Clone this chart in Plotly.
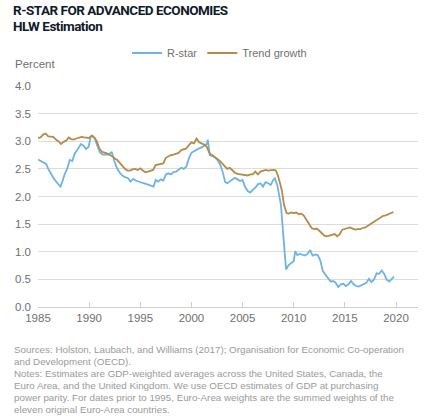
import plotly.graph_objects as go

# R-star (HLW estimation), GDP-weighted average, percent
rstar_years = [
    1985.0, 1985.25, 1985.5, 1985.8, 1986.0, 1986.25, 1986.6, 1986.9, 1987.2, 1987.4,
    1987.6, 1987.85, 1988.1, 1988.35, 1988.6, 1988.9, 1989.2, 1989.45, 1989.7, 1989.95,
    1990.15, 1990.3, 1990.55, 1990.8, 1991.05, 1991.3, 1991.55, 1991.8, 1992.05, 1992.2,
    1992.45, 1992.7, 1993.0, 1993.25, 1993.5, 1993.8, 1994.05, 1994.3, 1994.55, 1994.8,
    1995.05, 1995.3, 1995.55, 1995.8, 1996.05, 1996.3, 1996.5, 1996.75, 1997.0, 1997.25,
    1997.5, 1997.75, 1998.0, 1998.25, 1998.5, 1998.75, 1999.0, 1999.25, 1999.5, 1999.75,
    2000.0, 2000.25, 2000.5, 2000.75, 2001.0, 2001.25, 2001.5, 2001.6, 2001.8, 2002.05,
    2002.3, 2002.55, 2002.8, 2003.05, 2003.3, 2003.5, 2003.75, 2004.0, 2004.25, 2004.5,
    2004.75, 2005.0, 2005.25, 2005.5, 2005.75, 2006.0, 2006.25, 2006.5, 2006.75, 2007.0,
    2007.25, 2007.5, 2007.75, 2008.0, 2008.15, 2008.4, 2008.65, 2008.75, 2009.0, 2009.25,
    2009.5, 2009.75, 2010.0, 2010.15, 2010.35, 2010.6, 2010.85, 2011.1, 2011.35, 2011.6,
    2011.85, 2012.1, 2012.35, 2012.6, 2012.85, 2013.1, 2013.35, 2013.6, 2013.85, 2014.1,
    2014.35, 2014.6, 2014.85, 2015.1, 2015.35, 2015.6, 2015.85, 2016.1, 2016.35, 2016.6,
    2016.85, 2017.1, 2017.35, 2017.6, 2017.85, 2018.1, 2018.35, 2018.6, 2018.85, 2019.1,
    2019.35, 2019.6, 2019.8,
]
rstar_vals = [
    2.67, 2.64, 2.62, 2.59, 2.50, 2.42, 2.31, 2.24, 2.18, 2.28,
    2.40, 2.50, 2.66, 2.64, 2.78, 2.86, 2.95, 2.92, 2.86, 2.90,
    3.08, 3.10, 3.05, 2.92, 2.80, 2.76, 2.76, 2.76, 2.78, 2.81,
    2.65, 2.52, 2.43, 2.38, 2.35, 2.33, 2.27, 2.32, 2.29, 2.27,
    2.26, 2.24, 2.23, 2.21, 2.20, 2.18, 2.30, 2.27, 2.31, 2.29,
    2.40, 2.42, 2.40, 2.44, 2.45, 2.48, 2.52, 2.50, 2.54, 2.69,
    2.79, 2.82, 2.85, 2.87, 2.89, 2.92, 2.95, 3.03, 2.75, 2.73,
    2.71, 2.66, 2.58, 2.45, 2.26, 2.24, 2.27, 2.30, 2.34, 2.31,
    2.28, 2.30, 2.17, 2.10, 2.07, 2.12, 2.16, 2.22, 2.24, 2.18,
    2.26, 2.24, 2.21, 2.30, 2.33, 2.20, 1.95, 1.85, 1.25, 0.68,
    0.76, 0.80, 0.83, 1.01, 0.94, 0.96, 0.94, 0.93, 0.96, 1.03,
    0.93, 0.95, 0.94, 0.84, 0.65, 0.58, 0.51, 0.46, 0.47, 0.44,
    0.36, 0.41, 0.42, 0.38, 0.41, 0.47, 0.41, 0.38, 0.37, 0.39,
    0.41, 0.44, 0.51, 0.45, 0.50, 0.61, 0.60, 0.66, 0.60, 0.49,
    0.46, 0.51, 0.55,
]

# Trend growth, percent
trend_years = [
    1985.0, 1985.25, 1985.5, 1985.75, 1986.0, 1986.25, 1986.5, 1986.75, 1987.0, 1987.25,
    1987.5, 1987.75, 1988.0, 1988.25, 1988.5, 1988.75, 1989.0, 1989.25, 1989.5, 1989.75,
    1990.0, 1990.25, 1990.5, 1990.75, 1991.0, 1991.25, 1991.5, 1991.75, 1992.0, 1992.25,
    1992.5, 1992.75, 1993.0, 1993.25, 1993.5, 1993.75, 1994.0, 1994.25, 1994.5, 1994.75,
    1995.0, 1995.25, 1995.5, 1995.75, 1996.0, 1996.25, 1996.5, 1996.75, 1997.0, 1997.25,
    1997.5, 1997.75, 1998.0, 1998.25, 1998.5, 1998.75, 1999.0, 1999.25, 1999.5, 1999.75,
    2000.0, 2000.25, 2000.5, 2000.75, 2001.0, 2001.25, 2001.5, 2001.75, 2002.0, 2002.25,
    2002.5, 2002.75, 2003.0, 2003.25, 2003.5, 2003.75, 2004.0, 2004.25, 2004.5, 2004.75,
    2005.0, 2005.25, 2005.5, 2005.75, 2006.0, 2006.25, 2006.5, 2006.75, 2007.0, 2007.25,
    2007.5, 2007.75, 2008.0, 2008.25, 2008.45, 2008.65, 2008.85, 2009.05, 2009.3, 2009.5,
    2009.75, 2010.0, 2010.25, 2010.5, 2010.75, 2011.0, 2011.25, 2011.5, 2011.75, 2012.0,
    2012.25, 2012.5, 2012.75, 2013.0, 2013.25, 2013.5, 2013.75, 2014.0, 2014.25, 2014.5,
    2014.75, 2015.0, 2015.25, 2015.5, 2015.75, 2016.0, 2016.25, 2016.5, 2016.75, 2017.0,
    2017.25, 2017.5, 2017.75, 2018.0, 2018.25, 2018.5, 2018.75, 2019.0, 2019.25, 2019.5,
    2019.75,
]
trend_vals = [
    3.06, 3.07, 3.12, 3.14, 3.09, 3.08, 3.08, 3.03, 3.00, 2.95,
    2.99, 3.01, 3.07, 3.04, 3.03, 3.05, 3.07, 3.08, 3.07, 3.07,
    3.06, 3.10, 3.07, 3.00, 2.87, 2.81, 2.80, 2.78, 2.75, 2.73,
    2.69, 2.66, 2.61, 2.55, 2.50, 2.47, 2.47, 2.49, 2.50, 2.48,
    2.51, 2.47, 2.44, 2.45, 2.46, 2.48, 2.57, 2.58, 2.58, 2.60,
    2.70, 2.73, 2.75, 2.76, 2.77, 2.79, 2.84, 2.86, 2.87, 2.93,
    2.98, 2.96, 3.05, 2.98, 2.96, 2.94, 2.90, 2.79, 2.75, 2.72,
    2.69, 2.65, 2.60, 2.54, 2.50, 2.52, 2.48, 2.43, 2.41, 2.40,
    2.40, 2.39, 2.38, 2.40, 2.40, 2.45, 2.40, 2.45, 2.46, 2.48,
    2.47, 2.48, 2.48, 2.47, 2.38, 2.25, 2.10, 1.85, 1.70, 1.69,
    1.71, 1.70, 1.71, 1.68, 1.69, 1.65, 1.57, 1.49, 1.43, 1.41,
    1.42, 1.38, 1.34, 1.29, 1.28, 1.29, 1.31, 1.32, 1.28, 1.32,
    1.40, 1.41, 1.43, 1.44, 1.42, 1.40, 1.41, 1.41, 1.43, 1.44,
    1.47, 1.50, 1.53, 1.56, 1.59, 1.61, 1.65, 1.66, 1.68, 1.70,
    1.72,
]

x_ticks = [1985, 1990, 1995, 2000, 2005, 2010, 2015, 2020]
y_ticks = [0.0, 0.5, 1.0, 1.5, 2.0, 2.5, 3.0, 3.5, 4.0]

footer_lines = [
    "Sources: Holston, Laubach, and Williams (2017); Organisation for Economic Co-operation",
    "and Development (OECD).",
    "Notes: Estimates are GDP-weighted averages across the United States, Canada, the",
    "Euro Area, and the United Kingdom. We use OECD estimates of GDP at purchasing",
    "power parity. For dates prior to 1995, Euro-Area weights are the summed weights of the",
    "eleven original Euro-Area countries.",
]

FONT = "Liberation Sans, Arial, sans-serif"
TITLE_FONT = "Roboto, Liberation Sans, sans-serif"
W, H = 435, 419
L, R, T, B = 38, 17, 86, 112
pw, ph = W - L - R, H - T - B


def px_x(p):
    return (p - L) / pw


def px_y(p):
    return (H - B - p) / ph


fig = go.Figure()
fig.add_trace(go.Scatter(x=rstar_years, y=rstar_vals, mode="lines", name="R-star",
                         line=dict(color="#6db3e6", width=1.8)))
fig.add_trace(go.Scatter(x=trend_years, y=trend_vals, mode="lines", name="Trend growth",
                         line=dict(color="#b68a47", width=1.8)))

fig.update_layout(
    width=W, height=H,
    margin=dict(l=L, r=R, t=T, b=B, autoexpand=False),
    paper_bgcolor="white", plot_bgcolor="white",
    font=dict(family=FONT, size=11, color="#707070"),
    showlegend=True,
    legend=dict(orientation="h", x=px_x(127), y=px_y(53), xanchor="left", yanchor="middle",
                font=dict(size=11, color="#707070"), itemwidth=30, tracegroupgap=0),
    xaxis=dict(range=[1985, 2022.15], tickvals=x_ticks, showgrid=False, zeroline=False,
               showline=True, linecolor="#cfcfcf", linewidth=1.2,
               ticks="inside", ticklen=5, tickcolor="#cfcfcf",
               tickfont=dict(size=11.5, color="#707070")),
    yaxis=dict(range=[0, 4.0], tickvals=y_ticks, tickformat=".1f", showgrid=True,
               gridcolor="#dcdcdc", gridwidth=1.2, zeroline=False, showline=False,
               ticks="", ticklabelstandoff=6,
               tickfont=dict(size=11.5, color="#707070")),
)

title_style = "letter-spacing:-0.5px"
fig.add_annotation(text=f"<span style='{title_style}'><b>R-STAR FOR ADVANCED ECONOMIES</b></span>",
                   xref="paper", yref="paper",
                   x=px_x(11), y=px_y(0), xanchor="left", yanchor="top", showarrow=False,
                   font=dict(family=TITLE_FONT, size=13.5, color="#111a2b"))
fig.add_annotation(text=f"<span style='{title_style}'><b>HLW Estimation</b></span>",
                   xref="paper", yref="paper",
                   x=px_x(11), y=px_y(16), xanchor="left", yanchor="top", showarrow=False,
                   font=dict(family=TITLE_FONT, size=13.5, color="#111a2b"))
fig.add_annotation(text="Percent", xref="paper", yref="paper",
                   x=px_x(13), y=px_y(64), xanchor="left", yanchor="middle", showarrow=False,
                   font=dict(size=11.5, color="#707070"))

for i, line in enumerate(footer_lines):
    fig.add_annotation(text=line, xref="paper", yref="paper",
                       x=px_x(12), y=px_y(349 + i * 12), xanchor="left", yanchor="middle",
                       showarrow=False, font=dict(size=9.8, color="#9a9a9a"))

# drop the browser's default 8px body margin so the figure sits at the page corner
fig.write_html("out.html", config={"displayModeBar": False},
               post_script="document.body.style.margin='0';")
